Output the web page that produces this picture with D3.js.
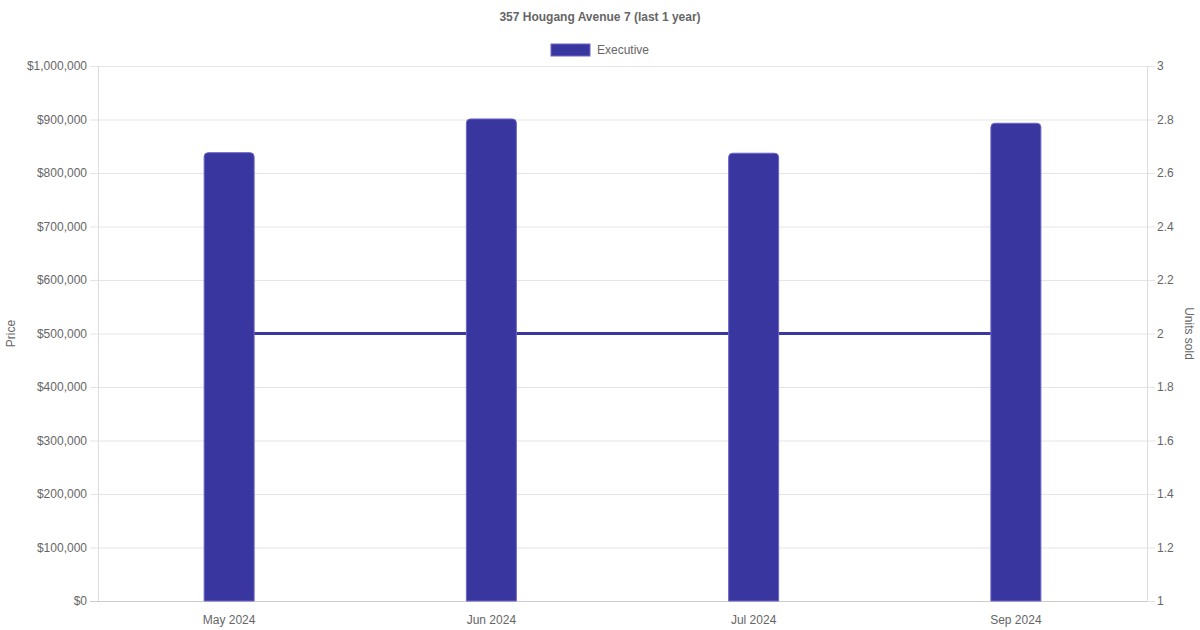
<!DOCTYPE html>
<html><head><meta charset="utf-8">
<script src="https://cdn.jsdelivr.net/npm/d3@7"></script>
<style>body{margin:0;background:#fff}svg{display:block;font-family:"Liberation Sans",Arial,sans-serif}</style>
</head><body><svg id="c" width="1200" height="630"></svg>
<script>
const categories = ["May 2024","Jun 2024","Jul 2024","Sep 2024"];
const prices = [838000, 901000, 837000, 893000];
const unitsSold = [2, 2, 2, 2];
const priceTicks = [0,100000,200000,300000,400000,500000,600000,700000,800000,900000,1000000];
const unitTicks = [1,1.2,1.4,1.6,1.8,2,2.2,2.4,2.6,2.8,3];
const seriesName = "Executive";
const title = "357 Hougang Avenue 7 (last 1 year)";

const svg = d3.select("#c");
const L = 98, R = 1147, T = 66, B = 601;
const color = "#3a36a0";
const x = d3.scaleBand().domain(categories).range([L, R]);
const y = d3.scaleLinear().domain([0, 1000000]).range([B, T]);
const y2 = d3.scaleLinear().domain([1, 3]).range([B, T]);
const txt = "#666";

// gridlines
svg.append("g").selectAll("line").data(priceTicks).join("line")
  .attr("x1", L - 8).attr("x2", R).attr("y1", d => y(d) + 0.5).attr("y2", d => y(d) + 0.5)
  .attr("stroke", d => d === 0 ? "#ccc" : "#e5e5e5");
// right ticks
svg.append("g").selectAll("line").data(unitTicks).join("line")
  .attr("x1", R).attr("x2", R + 8).attr("y1", d => y2(d) + 0.5).attr("y2", d => y2(d) + 0.5)
  .attr("stroke", "#e5e5e5");
// axis lines
svg.append("line").attr("x1", L + 0.5).attr("x2", L + 0.5).attr("y1", T).attr("y2", B).attr("stroke", "#ddd");
svg.append("line").attr("x1", R + 0.5).attr("x2", R + 0.5).attr("y1", T).attr("y2", B).attr("stroke", "#ddd");

// left labels
const fmt = d => "$" + d3.format(",")(d);
svg.append("g").selectAll("text").data(priceTicks).join("text")
  .attr("x", L - 11).attr("y", d => y(d)).attr("dy", "0.35em").attr("text-anchor", "end")
  .attr("font-size", 12).attr("fill", txt).text(fmt);
svg.append("g").selectAll("text").data(unitTicks).join("text")
  .attr("x", R + 10).attr("y", d => y2(d)).attr("dy", "0.35em").attr("text-anchor", "start")
  .attr("font-size", 12).attr("fill", txt).text(d => d3.format("")(+d.toFixed(1)));
svg.append("g").selectAll("text").data(categories).join("text")
  .attr("x", d => x(d) + x.bandwidth() / 2).attr("y", B + 19).attr("dy", "0.35em").attr("text-anchor", "middle")
  .attr("font-size", 12).attr("fill", txt).text(d => d);

// axis titles
svg.append("text").attr("transform", `translate(15,${(T + B) / 2}) rotate(-90)`).attr("text-anchor", "middle")
  .attr("font-size", 12).attr("fill", txt).text("Price");
svg.append("text").attr("transform", `translate(1185,${(T + B) / 2}) rotate(90)`).attr("text-anchor", "middle")
  .attr("font-size", 12).attr("fill", txt).text("Units sold");

// line
const line = d3.line().x((d, i) => x(categories[i]) + x.bandwidth() / 2).y(d => y2(d));
svg.append("path").datum(unitsSold).attr("d", line).attr("fill", "none").attr("stroke", color).attr("stroke-width", 3);

// bars with rounded top
const bw = 50, r = 4;
svg.append("g").selectAll("path").data(prices).join("path")
  .attr("d", (d, i) => {
    const cx = x(categories[i]) + x.bandwidth() / 2;
    const x0 = cx - bw / 2, x1 = cx + bw / 2, y0 = y(d), yb = B;
    return `M${x0},${yb}V${y0 + r}Q${x0},${y0} ${x0 + r},${y0}H${x1 - r}Q${x1},${y0} ${x1},${y0 + r}V${yb}Z`;
  })
  .attr("fill", color).attr("stroke", "#6a66c8").attr("stroke-width", 1);

// title
svg.append("text").attr("x", 600).attr("y", 17).attr("dy", "0.35em").attr("text-anchor", "middle")
  .attr("font-size", 12).attr("font-weight", "bold").attr("fill", txt).text(title);
// legend
svg.append("rect").attr("x", 551).attr("y", 44).attr("width", 39).attr("height", 12).attr("fill", color).attr("stroke", "#6a66c8");
svg.append("text").attr("x", 597).attr("y", 50).attr("dy", "0.35em").attr("font-size", 12).attr("fill", txt).text(seriesName);
</script></body></html>
